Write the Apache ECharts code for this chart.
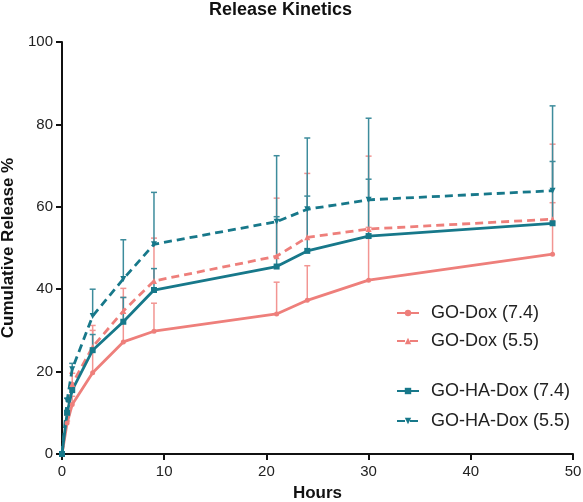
<!DOCTYPE html>
<html>
<head>
<meta charset="utf-8">
<script src="https://cdn.jsdelivr.net/npm/echarts@6/dist/echarts.min.js"></script>
<style>html,body{margin:0;padding:0;background:#fff}#c{width:583px;height:502px}</style>
</head>
<body>
<div id="c"></div>
<script>
const hours = [0, 0.5, 1, 3, 6, 9, 21, 24, 30, 48];
const goDox74 = [0, 7.5, 12, 19.7, 27.2, 29.8, 34, 37.3, 42.2, 48.5];
const goDox74Err = [0, 0.5, 2, 11.5, 13, 6.8, 7.7, 8.4, 12.8, 12.5];
const goDox55 = [0, 10, 17, 26, 34.7, 42, 48, 52.6, 54.6, 57];
const goDox55Err = [0, 0.5, 2.6, 4, 3.3, 10.4, 14.1, 15.5, 17.7, 18.2];
const goHaDox74 = [0, 10, 15.5, 25.2, 32.1, 39.8, 45.5, 49.3, 52.9, 56];
const goHaDox74Err = [0, 0.5, 1.5, 3.8, 5.9, 5.2, 12.1, 13.3, 13.8, 15];
const goHaDox55 = [0, 13, 20.6, 33.5, 42.5, 50.9, 56.4, 59.4, 61.7, 63.9];
const goHaDox55Err = [0, 0.5, 1.4, 6.5, 9.5, 12.6, 16, 17.3, 19.8, 20.6];
const yTicks = [0, 20, 40, 60, 80, 100];
const xTicks = [0, 10, 20, 30, 40, 50];

const PINK = '#EE7F7B';
const TEAL = '#17788A';
const FONT = "'Liberation Sans', Arial, sans-serif";

function pts(vals) { return hours.map((h, i) => [h, vals[i]]); }
function errPts(vals, errs) { return hours.map((h, i) => [h, vals[i], vals[i] + errs[i]]); }

function errSeries(vals, errs, color) {
  return {
    type: 'custom',
    z: 1,
    silent: true,
    data: errPts(vals, errs),
    encode: { x: 0, y: [1, 2] },
    renderItem: function (params, api) {
      const x = api.value(0), lo = api.value(1), hi = api.value(2);
      if (hi - lo < 0.01) return null;
      const p0 = api.coord([x, lo]);
      const p1 = api.coord([x, hi]);
      const w = 3;
      return {
        type: 'group',
        children: [
          { type: 'line', shape: { x1: p0[0], y1: p0[1], x2: p1[0], y2: p1[1] }, style: { stroke: color, lineWidth: 1.5 } },
          { type: 'line', shape: { x1: p1[0] - w, y1: p1[1], x2: p1[0] + w, y2: p1[1] }, style: { stroke: color, lineWidth: 1.5 } }
        ]
      };
    }
  };
}

function lineSeries(name, vals, color, dashed, symbol, size, rot) {
  return {
    name: name,
    type: 'line',
    z: 3,
    data: pts(vals),
    symbol: symbol,
    symbolSize: size,
    symbolRotate: rot || 0,
    showSymbol: true,
    lineStyle: { color: color, width: 2.8, type: dashed ? [8, 5] : 'solid' },
    itemStyle: { color: color },
    emphasis: { disabled: true }
  };
}

const chart = echarts.init(document.getElementById('c'), null, { renderer: 'canvas' });
chart.setOption({
  animation: false,
  backgroundColor: '#fff',
  title: {
    text: 'Release Kinetics',
    left: 209, top: 1, padding: 0,
    textStyle: { fontFamily: FONT, fontWeight: 'bold', fontSize: 18, color: '#111' }
  },
  legend: [
    {
      data: ['GO-Dox (7.4)', 'GO-Dox (5.5)'],
      orient: 'vertical', left: 396, top: 304, itemGap: 10,
      itemWidth: 22, itemHeight: 8, padding: 0,
      textStyle: { fontFamily: FONT, fontSize: 18, color: '#222', padding: [0, 0, 0, 7] }
    },
    {
      data: ['GO-HA-Dox (7.4)', 'GO-HA-Dox (5.5)'],
      orient: 'vertical', left: 396, top: 382, itemGap: 12,
      itemWidth: 22, itemHeight: 8, padding: 0,
      textStyle: { fontFamily: FONT, fontSize: 18, color: '#222', padding: [0, 0, 0, 7] }
    }
  ],
  grid: { left: 62, right: 10, top: 42, bottom: 48, containLabel: false, outerBoundsMode: 'none' },
  xAxis: {
    type: 'value', min: xTicks[0], max: xTicks[xTicks.length - 1], interval: 10,
    name: 'Hours', nameLocation: 'middle', nameGap: 31,
    nameTextStyle: { fontFamily: FONT, fontWeight: 'bold', fontSize: 17, color: '#111' },
    axisLine: { lineStyle: { color: '#111', width: 2 } },
    axisTick: { show: true, length: 6, lineStyle: { color: '#111', width: 2 } },
    axisLabel: { fontFamily: FONT, fontSize: 15, color: '#222', margin: 10 },
    splitLine: { show: false }
  },
  yAxis: {
    type: 'value', min: yTicks[0], max: yTicks[yTicks.length - 1], interval: 20,
    name: 'Cumulative Release %', nameLocation: 'middle', nameGap: 41,
    nameTextStyle: { fontFamily: FONT, fontWeight: 'bold', fontSize: 17, color: '#111' },
    axisLine: { show: true, lineStyle: { color: '#111', width: 2 } },
    axisTick: { show: true, length: 6, lineStyle: { color: '#111', width: 2 } },
    axisLabel: { fontFamily: FONT, fontSize: 15, color: '#222', margin: 9 },
    splitLine: { show: false }
  },
  series: [
    errSeries(goDox74, goDox74Err, '#F29592'),
    errSeries(goDox55, goDox55Err, '#F29592'),
    errSeries(goHaDox74, goHaDox74Err, '#3D8C9C'),
    errSeries(goHaDox55, goHaDox55Err, '#3D8C9C'),
    lineSeries('GO-Dox (7.4)', goDox74, PINK, false, 'circle', 5),
    lineSeries('GO-Dox (5.5)', goDox55, PINK, true, 'triangle', 6),
    lineSeries('GO-HA-Dox (7.4)', goHaDox74, TEAL, false, 'rect', 6),
    lineSeries('GO-HA-Dox (5.5)', goHaDox55, TEAL, true, 'triangle', 6, 180)
  ]
});
</script>
</body>
</html>
